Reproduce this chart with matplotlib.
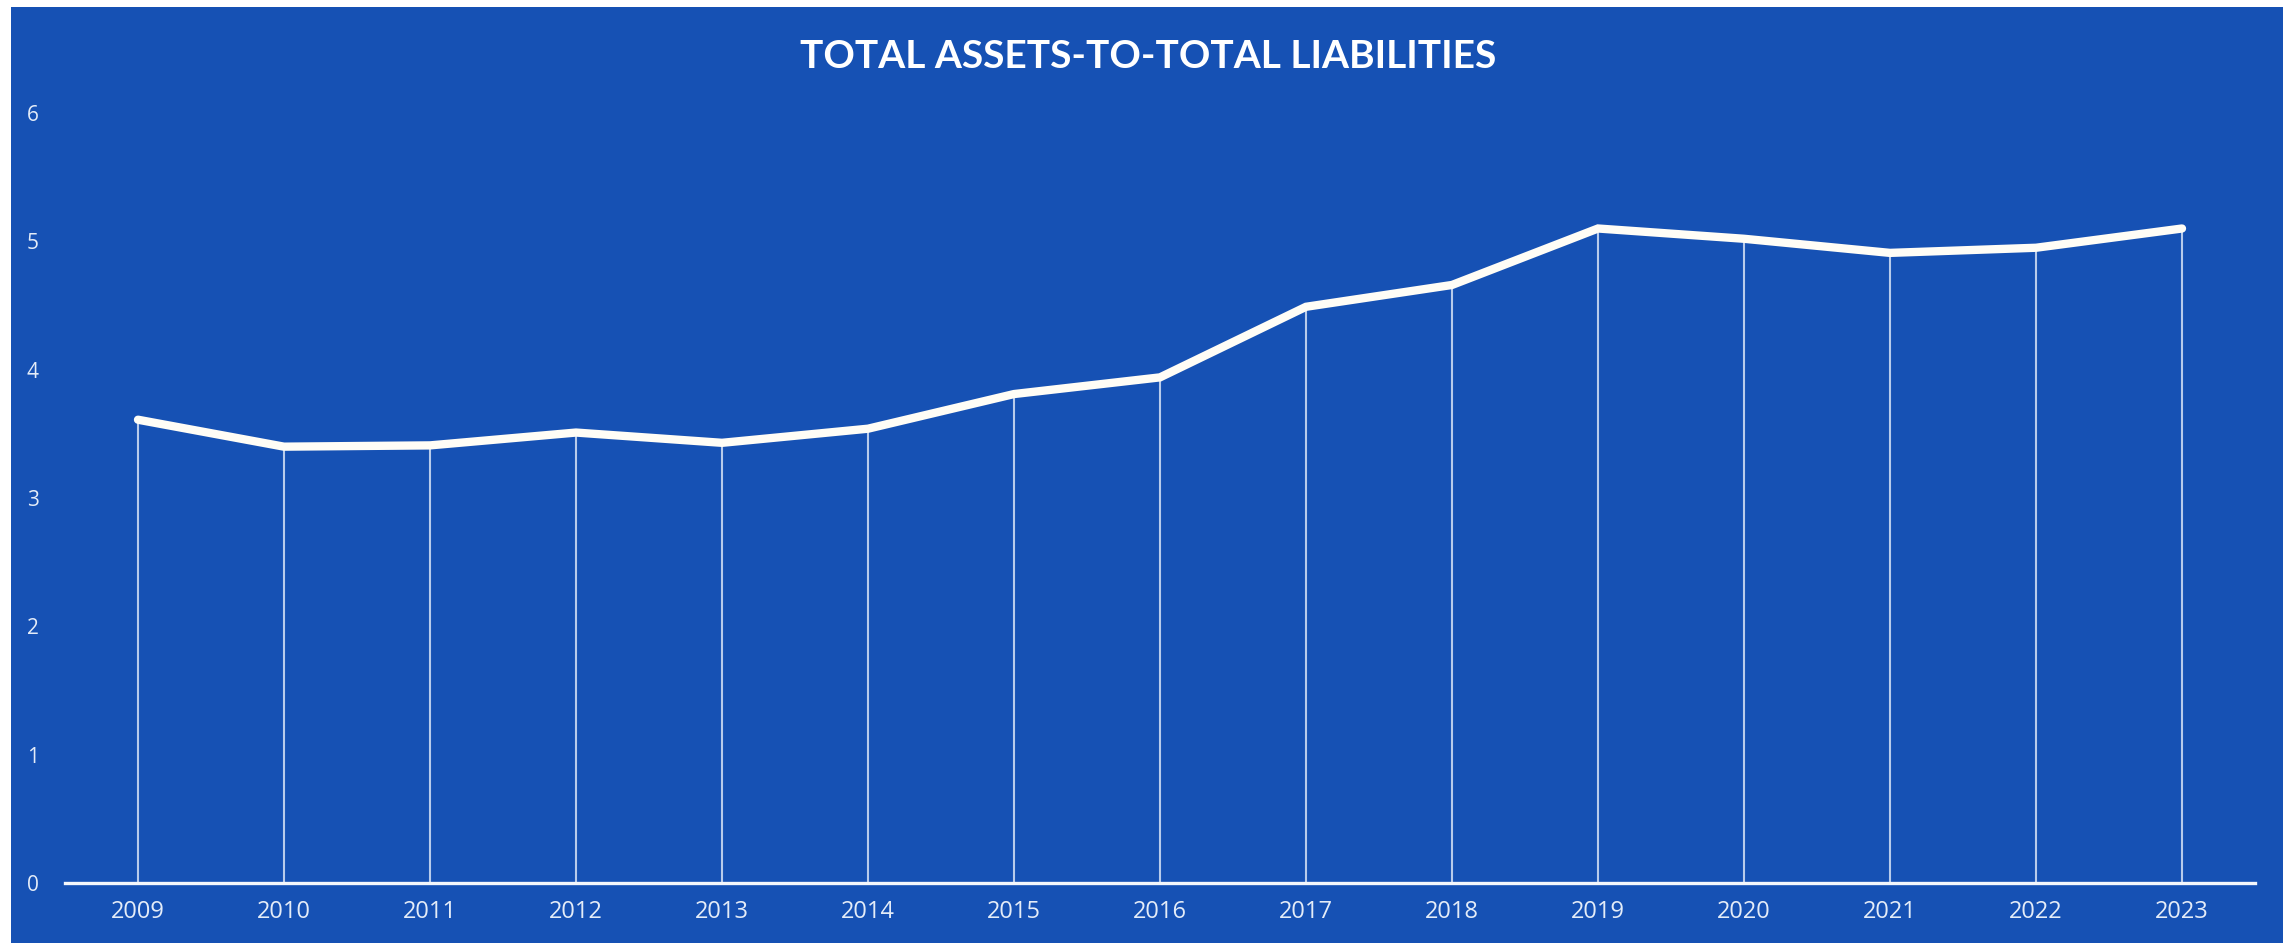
import matplotlib
matplotlib.use("Agg")
import matplotlib.pyplot as plt
from matplotlib.patches import Rectangle

years = ["2009", "2010", "2011", "2012", "2013", "2014", "2015", "2016",
         "2017", "2018", "2019", "2020", "2021", "2022", "2023"]
ratio = [3.61, 3.40, 3.41, 3.51, 3.43, 3.54, 3.81, 3.94,
         4.49, 4.66, 5.10, 5.02, 4.91, 4.95, 5.10]
y_ticks = [0, 1, 2, 3, 4, 5, 6]
title = "TOTAL ASSETS-TO-TOTAL LIABILITIES"

BLUE = "#1651B4"
W, H, DPI = 2296, 943, 100

plt.rcParams["font.family"] = ["Lato", "DejaVu Sans"]

fig = plt.figure(figsize=(W / DPI, H / DPI), dpi=DPI, facecolor="white")

# blue panel behind the chart
fig.patches.append(Rectangle((11 / W, 0), (2283 - 11) / W, 1 - 7 / H,
                             transform=fig.transFigure, facecolor=BLUE,
                             edgecolor="none", zorder=-10))

left, right = 65 / W, 2255 / W
bottom, top = 1 - 883 / H, 1 - 113 / H
ax = fig.add_axes([left, bottom, right - left, top - bottom])
ax.set_facecolor("none")
ax.set_zorder(5)

x = list(range(len(years)))

# drop lines from each point to the category axis
ax.vlines(x, 0, ratio, colors="#d6e2f6", linewidth=1.5, alpha=0.85, zorder=2)

# main series
ax.plot(x, ratio, color="#fffdf6", linewidth=6,
        solid_capstyle="round", solid_joinstyle="miter", zorder=3)

ax.set_xlim(-0.5, len(years) - 0.5)
ax.set_ylim(0, 6)

for side in ("left", "right", "top"):
    ax.spines[side].set_visible(False)
ax.spines["bottom"].set_color("#f4f7fc")
ax.spines["bottom"].set_linewidth(2.4)

ax.set_xticks(x)
ax.set_xticklabels(years, fontfamily="Open Sans")
ax.set_yticks(y_ticks)
ax.set_yticklabels([str(t) for t in y_ticks], fontfamily="Open Sans")
ax.tick_params(axis="x", length=0, pad=12, labelsize=17, labelcolor="#e4ecf8")
ax.tick_params(axis="y", length=0, pad=19, labelsize=15, labelcolor="#e4ecf8")

fig.text(0.5, 1 - 57 / H, title, ha="center", va="center",
         fontsize=28, fontweight="bold", color="white", zorder=6)

fig.savefig("out.png", dpi=DPI, facecolor="white")
